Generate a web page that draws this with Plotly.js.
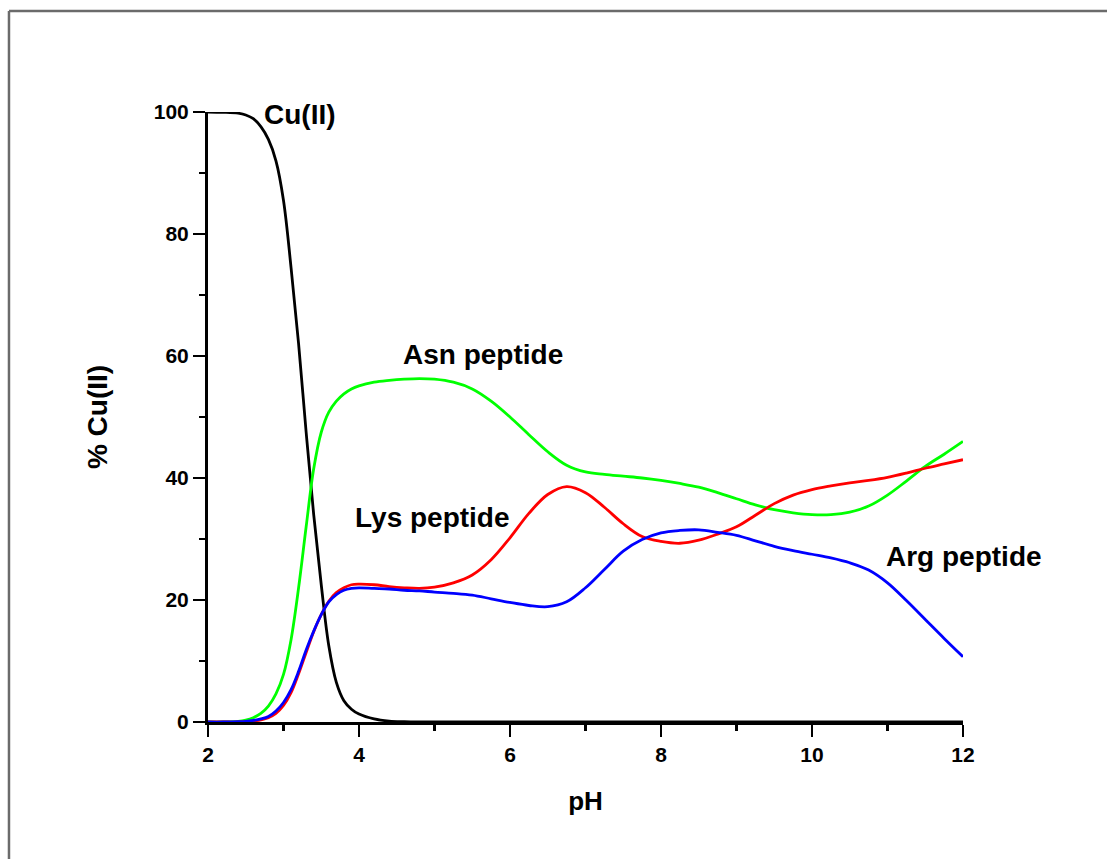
<!DOCTYPE html>
<html>
<head>
<meta charset="utf-8">
<script src="https://cdn.plot.ly/plotly-3.0.1.min.js"></script>
<style>
html,body{margin:0;padding:0;background:#fff;}
#chart{width:1107px;height:859px;}
</style>
</head>
<body>
<div id="chart"></div>
<script>
// pH values (shared x for all series)
const pH = [2.0, 2.2, 2.4, 2.5, 2.6, 2.7, 2.8, 2.9, 3.0, 3.1, 3.2, 3.3, 3.4, 3.5, 3.6, 3.7, 3.8, 3.9, 4.0, 4.2, 4.4, 4.6, 4.8, 5.0,
  5.25, 5.5, 5.75, 6.0, 6.25, 6.5, 6.75, 7.0, 7.25, 7.5, 7.75, 8.0, 8.25, 8.5, 8.75, 9.0, 9.25, 9.5, 9.75, 10.0,
  10.25, 10.5, 10.75, 11.0, 11.25, 11.5, 11.75, 12.0];

const cuII = [100, 99.95, 99.8, 99.5, 98.9, 97.6, 95.5, 92, 85.5, 74.5, 62, 47.5, 34, 22.5, 12.5, 6.5, 3.5, 2.1, 1.3, 0.5, 0.15, 0.05, 0.01, 0,
  0, 0, 0, 0, 0, 0, 0, 0, 0, 0, 0, 0, 0, 0, 0, 0, 0, 0, 0, 0,
  0, 0, 0, 0, 0, 0, 0, 0];

const asnPeptide = [0, 0, 0.1, 0.3, 0.7, 1.4, 2.6, 4.6, 7.8, 13.5, 22, 32, 41.5, 47.5, 50.8, 52.6, 53.8, 54.6, 55.1, 55.7, 56, 56.2, 56.3, 56.2,
  55.7, 54.6, 52.6, 50, 47.1, 44.3, 42.1, 41.0, 40.6, 40.3, 40, 39.6, 39.1, 38.5, 37.6, 36.6, 35.6, 34.8, 34.3, 34.0,
  34.0, 34.4, 35.4, 37.2, 39.5, 41.9, 43.9, 46.0];

const lysPeptide = [0, 0, 0, 0.05, 0.15, 0.35, 0.7, 1.4, 2.7, 4.8, 7.9, 11.4, 14.8, 17.6, 19.8, 21.2, 22.0, 22.5, 22.6, 22.5, 22.2, 22.0, 21.9, 22.1,
  22.8, 24.1, 26.6, 30.2, 34.2, 37.3, 38.6, 37.6, 35.2, 32.5, 30.4, 29.6, 29.3, 29.8, 30.8, 32, 33.9, 35.8, 37.2, 38.1,
  38.7, 39.2, 39.6, 40.1, 40.8, 41.6, 42.3, 43.0];

const argPeptide = [0, 0, 0.05, 0.1, 0.25, 0.5, 0.9, 1.8, 3.2, 5.3, 8.3, 11.8, 14.9, 17.6, 19.7, 20.9, 21.6, 21.9, 22.0, 21.9, 21.8, 21.6, 21.5, 21.3,
  21.1, 20.8, 20.2, 19.6, 19.1, 18.9, 19.7, 22.0, 25.0, 28.0, 29.9, 31.0, 31.4, 31.5, 31.1, 30.6, 29.7, 28.8, 28.1, 27.5,
  26.9, 26.1, 24.9, 22.8, 19.9, 16.8, 13.7, 10.7];

const seriesNames = ["Cu(II)", "Asn peptide", "Lys peptide", "Arg peptide"];
const seriesColors = ["#000000", "#00ff00", "#ff0000", "#0000ff"];
const seriesValues = [cuII, asnPeptide, lysPeptide, argPeptide];

// label anchor points (pH, %) — left edge of each label
const labelX = [2.71, 4.56, 3.92, 10.95];
const labelY = [99.6, 60.2, 33.6, 27.2];

const xTicks = [2, 4, 6, 8, 10, 12];
const yTicks = [0, 20, 40, 60, 80, 100];

const FONT = '"Liberation Sans", Arial, sans-serif';

const traces = seriesValues.map((v, i) => ({
  x: pH, y: v, type: 'scatter', mode: 'lines', name: seriesNames[i],
  line: {color: seriesColors[i], width: 2.8, shape: 'spline', smoothing: 1},
  cliponaxis: false, hoverinfo: 'skip'
}));

const annotations = seriesNames.map((n, i) => ({
  x: labelX[i], y: labelY[i], xref: 'x', yref: 'y', text: '<b>' + n + '</b>',
  showarrow: false, font: {family: FONT, size: 28, color: '#000'},
  xanchor: 'left', yanchor: 'middle'
}));

const layout = {
  width: 1107, height: 859,
  margin: {l: 208, r: 144, t: 112, b: 137},
  paper_bgcolor: '#ffffff', plot_bgcolor: '#ffffff',
  showlegend: false,
  font: {family: FONT, color: '#000'},
  xaxis: {
    range: [2, 12], tickvals: xTicks, ticktext: xTicks.map(t => '<b>' + t + '</b>'),
    showgrid: false, zeroline: false, showline: true, linecolor: '#000', linewidth: 3,
    ticks: 'outside', ticklen: 12, tickwidth: 2.5, tickcolor: '#000',
    minor: {tickvals: [3, 5, 7, 9, 11], ticks: 'outside', ticklen: 6, tickwidth: 2.5, tickcolor: '#000', showgrid: false},
    tickfont: {family: FONT, size: 21, color: '#000'},
    title: {text: '<b>pH</b>', font: {family: FONT, size: 26, color: '#000'}, standoff: 27}
  },
  yaxis: {
    range: [0, 100], tickvals: yTicks, ticktext: yTicks.map(t => '<b>' + t + '</b>'),
    showgrid: false, zeroline: false, showline: true, linecolor: '#000', linewidth: 3,
    ticks: 'outside', ticklen: 12, tickwidth: 2.5, tickcolor: '#000',
    minor: {tickvals: [10, 30, 50, 70, 90], ticks: 'outside', ticklen: 6, tickwidth: 2.5, tickcolor: '#000', showgrid: false},
    tickfont: {family: FONT, size: 21, color: '#000'},
    title: {text: '<b>% Cu(II)</b>', font: {family: FONT, size: 28, color: '#000'}, standoff: 38}
  },
  annotations: annotations,
  shapes: [
    {type: 'line', xref: 'paper', yref: 'paper', x0: -0.2636, x1: 1.3, y0: 1.1656, y1: 1.1656, line: {color: '#6b6b6b', width: 2.5}, layer: 'above'},
    {type: 'line', xref: 'paper', yref: 'paper', x0: -0.2636, x1: -0.2636, y0: 1.1656, y1: -0.4, line: {color: '#6b6b6b', width: 2.5}, layer: 'above'}
  ]
};

Plotly.newPlot('chart', traces, layout, {displayModeBar: false, staticPlot: true});
</script>
</body>
</html>
